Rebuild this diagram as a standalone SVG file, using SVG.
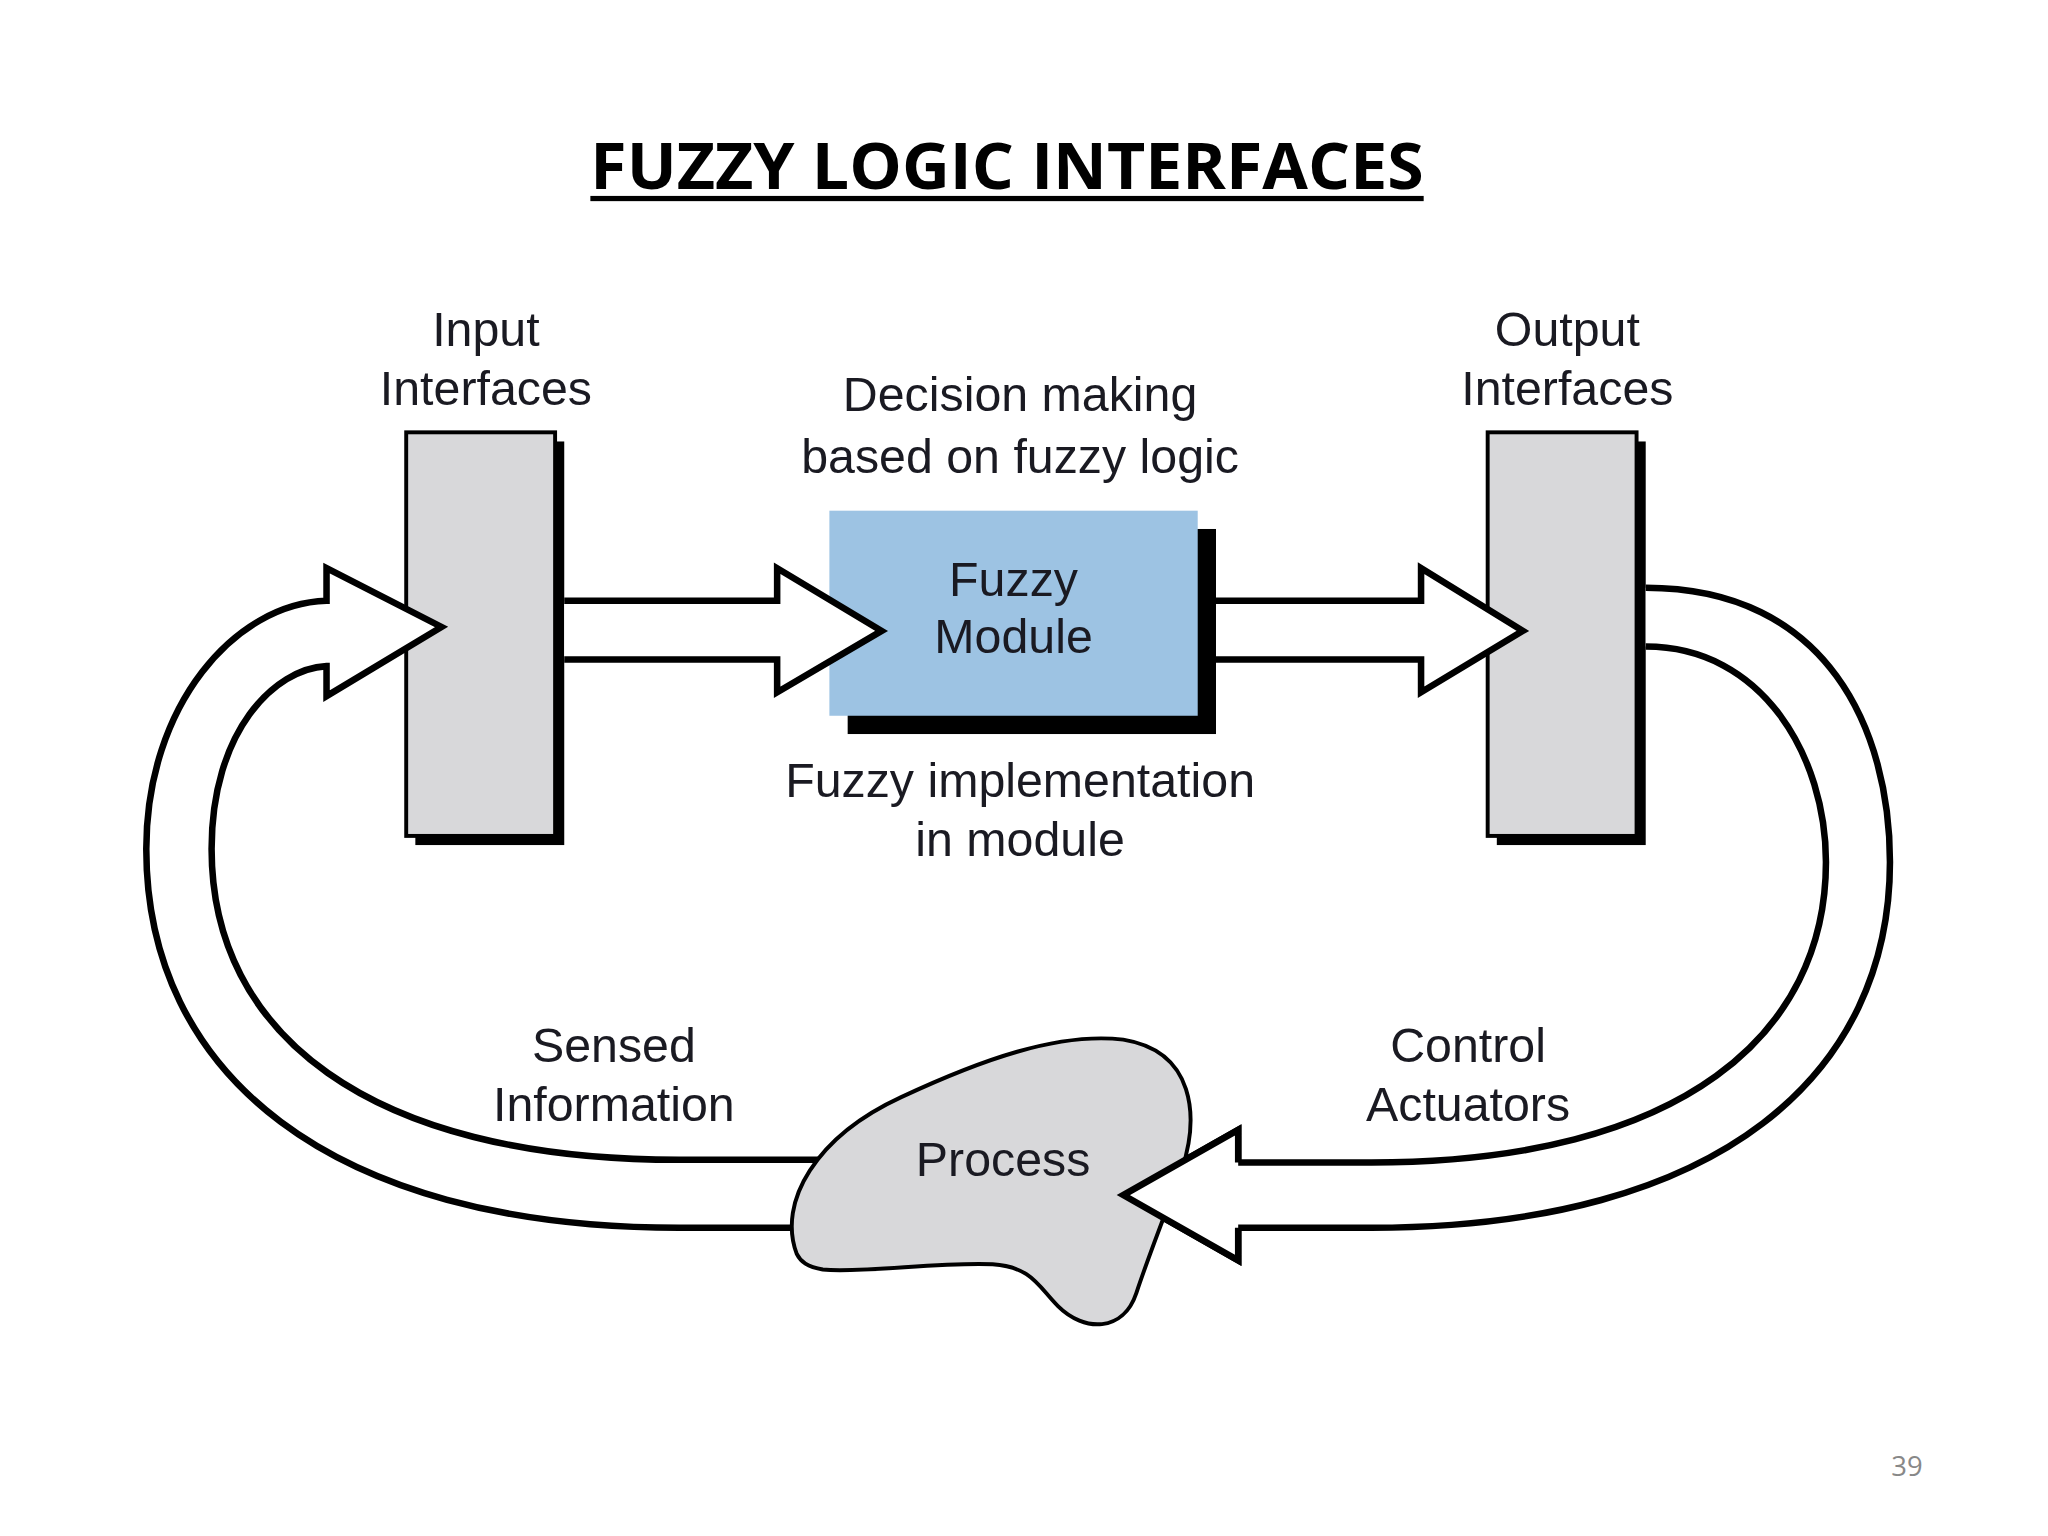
<svg xmlns="http://www.w3.org/2000/svg" width="2048" height="1536" viewBox="0 0 2048 1536">
<style>
.t{font-family:"Liberation Sans",Arial,sans-serif;font-size:37px;fill:#1a1a22;text-anchor:middle}
.arr{fill:#fff;stroke:#000;stroke-width:5;stroke-linejoin:miter}
.box{fill:#d8d8da;stroke:#000;stroke-width:3}
</style>
<rect width="2048" height="1536" fill="#fff"/>
<g transform="scale(1.30612)">
<g id="title">
<text x="452" y="145" font-family="'Open Sans','Liberation Sans',sans-serif" font-weight="bold" font-size="50" textLength="638" lengthAdjust="spacingAndGlyphs" fill="#000">FUZZY LOGIC INTERFACES</text>
<rect x="452" y="150" width="638" height="4" fill="#000"/>
</g>
<g id="input">
<rect x="318" y="338" width="114" height="309" fill="#000"/>
<rect class="box" x="311" y="331" width="114" height="309"/>
<text class="t" x="372" y="265">Input</text>
<text class="t" x="372" y="310">Interfaces</text>
</g>
<g id="output">
<rect x="1146" y="338" width="114" height="309" fill="#000"/>
<rect class="box" x="1139" y="331" width="114" height="309"/>
<text class="t" x="1200" y="265">Output</text>
<text class="t" x="1200" y="310">Interfaces</text>
</g>
<g id="module">
<rect x="649" y="405" width="282" height="157" fill="#000"/>
<rect x="635" y="391" width="282" height="157" fill="#9dc3e3"/>
<text class="t" x="776" y="456">Fuzzy</text>
<text class="t" x="776" y="500">Module</text>
<text class="t" x="781" y="315">Decision making</text>
<text class="t" x="781" y="362">based on fuzzy logic</text>
<text class="t" x="781" y="610">Fuzzy implementation</text>
<text class="t" x="781" y="655">in module</text>
</g>
<g id="connectors">
<path class="arr" d="M432,460 L595,460 L595,435 L675,483 L595,530 L595,505 L432,505"/>
<path class="arr" d="M931,460 L1088,460 L1088,435 L1166,483 L1088,530 L1088,505 L931,505"/>
<path class="arr" d="M1260,450 C1400,450 1447,560 1447,660 C1447,820 1320,940 1050,940 L948,940 L948,965 L860,915 L948,865 L948,890 L1050,890 C1290,890 1398,790 1398,660 C1398,580 1350,495 1260,495"/>
<path class="arr" d="M620,940 L520,940 C250,940 112,820 112,650 C112,540 180,462 250,460 L250,435 L338,480 L250,533 L250,510 C210,512 162,560 162,650 C162,790 280,888 520,888 L630,888"/>
</g>
<g id="process">
<path d="M610,960 C595,920 625,870 690,840 C750,812 810,790 860,796 C915,805 918,855 905,895 C890,935 880,960 870,990 C860,1020 830,1020 810,1000 C795,985 790,970 760,968 C720,966 660,975 630,972 C618,970 613,966 610,960 Z" fill="#d8d8da" stroke="#000" stroke-width="3"/>
<path class="arr" d="M948,940 L948,965 L860,915 L948,865 L948,890" fill="none"/>
<text class="t" x="768" y="900">Process</text>
</g>
<g id="labels">
<text class="t" x="470" y="813">Sensed</text>
<text class="t" x="470" y="858">Information</text>
<text class="t" x="1124" y="813">Control</text>
<text class="t" x="1124" y="858">Actuators</text>
<text x="1460" y="1130" font-family="'Open Sans','Liberation Sans',sans-serif" font-size="21" fill="#888" text-anchor="middle">39</text>
</g>
</g>
</svg>
